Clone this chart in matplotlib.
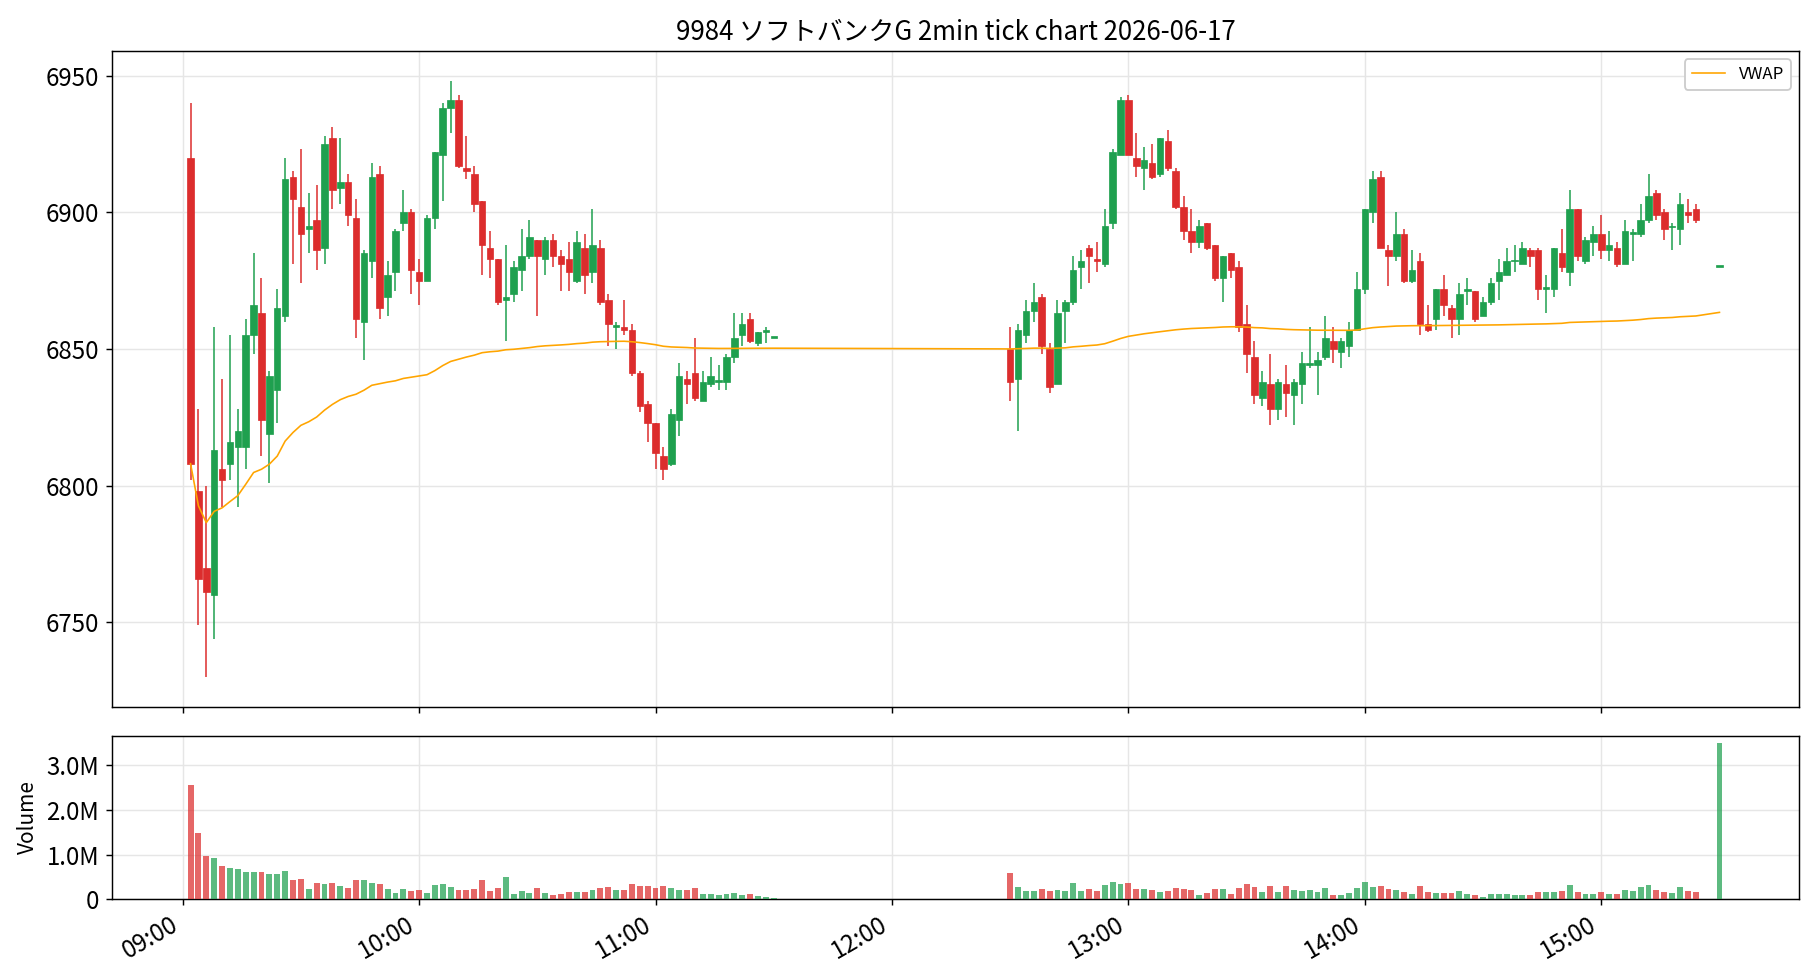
import matplotlib
matplotlib.use("Agg")
import matplotlib.pyplot as plt
import matplotlib.dates as mdates
import matplotlib.ticker as mticker
import numpy as np
import pandas as pd

plt.rcParams['font.family'] = ['Noto Sans CJK JP', 'DejaVu Sans']

TITLE = "9984 ソフトバンクG 2min tick chart 2026-06-17"

# ---- morning session (2-min bars, 09:02 .. 11:30) ----
am_open = [6920, 6798, 6770, 6760, 6806, 6808, 6814, 6814, 6855, 6863,
           6819, 6835, 6862, 6913, 6902, 6894, 6897, 6887, 6927, 6909,
           6911, 6898, 6860, 6882, 6914, 6869, 6878, 6896, 6900, 6878,
           6875, 6898, 6921, 6938, 6941, 6916, 6914, 6904, 6887, 6883,
           6868, 6870, 6879, 6884, 6890, 6883, 6890, 6884, 6883, 6875,
           6887, 6878, 6887, 6868, 6858, 6858, 6857, 6841, 6830, 6823,
           6811, 6808, 6824, 6839, 6841, 6831, 6837, 6838, 6838, 6847,
           6855, 6861, 6852, 6856, 6854]
am_high = [6940, 6828, 6800, 6858, 6839, 6855, 6828, 6861, 6885, 6876,
           6842, 6872, 6920, 6915, 6923, 6907, 6910, 6928, 6931, 6927,
           6914, 6905, 6886, 6918, 6917, 6882, 6894, 6908, 6901, 6883,
           6899, 6922, 6940, 6948, 6943, 6928, 6917, 6904, 6893, 6883,
           6888, 6882, 6894, 6897, 6890, 6891, 6892, 6886, 6889, 6893,
           6892, 6901, 6890, 6870, 6860, 6868, 6859, 6842, 6831, 6823,
           6814, 6828, 6845, 6842, 6854, 6842, 6847, 6844, 6848, 6863,
           6863, 6863, 6856, 6858, 6854]
am_low = [6802, 6749, 6730, 6744, 6792, 6802, 6792, 6806, 6848, 6811,
          6801, 6823, 6860, 6881, 6874, 6885, 6879, 6881, 6901, 6903,
          6895, 6854, 6846, 6876, 6861, 6862, 6871, 6893, 6870, 6866,
          6875, 6894, 6904, 6929, 6916, 6912, 6900, 6877, 6876, 6866,
          6853, 6867, 6871, 6883, 6862, 6877, 6880, 6871, 6871, 6874,
          6870, 6874, 6866, 6851, 6850, 6855, 6840, 6827, 6816, 6806,
          6802, 6807, 6818, 6830, 6831, 6831, 6836, 6835, 6835, 6845,
          6851, 6852, 6851, 6852, 6854]
am_close = [6808, 6766, 6761, 6813, 6802, 6816, 6820, 6855, 6866, 6824,
            6840, 6865, 6912, 6905, 6892, 6895, 6886, 6925, 6908, 6911,
            6899, 6861, 6885, 6913, 6865, 6877, 6893, 6900, 6879, 6875,
            6898, 6922, 6938, 6941, 6917, 6915, 6903, 6888, 6883, 6867,
            6869, 6880, 6884, 6891, 6884, 6890, 6884, 6881, 6878, 6889,
            6877, 6888, 6867, 6859, 6858.5, 6857, 6841, 6829, 6823, 6812,
            6806, 6826, 6840, 6837, 6832, 6838, 6840, 6838.5, 6847, 6854,
            6859, 6853, 6856, 6857, 6854]
am_volume_m = [2.55, 1.48, 0.97, 0.92, 0.74, 0.70, 0.68, 0.61, 0.61, 0.61,
               0.57, 0.57, 0.63, 0.43, 0.45, 0.23, 0.36, 0.34, 0.36, 0.30,
               0.25, 0.43, 0.43, 0.36, 0.34, 0.23, 0.14, 0.23, 0.19, 0.21,
               0.14, 0.32, 0.34, 0.28, 0.21, 0.21, 0.23, 0.43, 0.19, 0.25,
               0.50, 0.12, 0.19, 0.14, 0.25, 0.14, 0.10, 0.12, 0.16, 0.16,
               0.16, 0.21, 0.25, 0.27, 0.20, 0.22, 0.35, 0.30, 0.30, 0.25,
               0.30, 0.25, 0.22, 0.20, 0.25, 0.12, 0.12, 0.10, 0.12, 0.15,
               0.10, 0.12, 0.08, 0.06, 0.03]

# ---- afternoon session (2-min bars, 12:30 .. 15:24, closing print 15:30) ----
pm_open = [6850, 6839, 6855, 6864, 6869, 6850, 6837, 6864, 6867, 6880,
           6887, 6883, 6881, 6896, 6921, 6941, 6920, 6916, 6918, 6914,
           6926, 6915, 6902, 6893, 6889, 6896, 6888, 6876, 6885, 6880,
           6859, 6847, 6832, 6837, 6828, 6837, 6833, 6837, 6844, 6844,
           6847, 6853, 6849, 6851, 6857, 6872, 6900, 6913, 6886, 6884,
           6892, 6875, 6882, 6859, 6861, 6872, 6865, 6861, 6871, 6871,
           6862, 6867, 6875, 6877, 6882, 6881, 6886, 6886, 6872, 6872,
           6885, 6878, 6901, 6882, 6889, 6892, 6886, 6887, 6881, 6892,
           6892, 6897, 6907, 6900, 6894.5, 6894, 6900, 6901, 6880]
pm_high = [6858, 6859, 6868, 6874, 6870, 6852, 6868, 6868, 6884, 6886,
           6888, 6889, 6901, 6923, 6942, 6943, 6929, 6924, 6925, 6927,
           6930, 6916, 6906, 6901, 6897, 6896, 6888, 6884, 6885, 6882,
           6866, 6853, 6842, 6848, 6839, 6844, 6839, 6849, 6858, 6849,
           6862, 6858, 6854, 6860, 6878, 6901, 6915, 6915, 6888, 6900,
           6894, 6886, 6885, 6866, 6872, 6877, 6866, 6874, 6876, 6871,
           6869, 6876, 6883, 6887, 6888, 6889, 6887, 6887, 6877, 6887,
           6894, 6908, 6901, 6891, 6895, 6899, 6893, 6889, 6897, 6894,
           6903, 6914, 6908, 6901, 6896, 6907, 6905, 6903, 6880]
pm_low = [6831, 6820, 6852, 6860, 6848, 6834, 6837, 6852, 6866, 6872,
          6874, 6878, 6880, 6894, 6921, 6921, 6913, 6908, 6912, 6913,
          6915, 6901, 6890, 6885, 6887, 6886, 6875, 6867, 6876, 6856,
          6841, 6830, 6829, 6822, 6824, 6825, 6822, 6830, 6843, 6833,
          6846, 6845, 6843, 6847, 6857, 6870, 6896, 6887, 6873, 6882,
          6874, 6874, 6855, 6856, 6857, 6862, 6854, 6855, 6866, 6860,
          6862, 6866, 6868, 6877, 6878, 6881, 6880, 6868, 6863, 6869,
          6878, 6873, 6882, 6881, 6884, 6883, 6882, 6880, 6881, 6882,
          6891, 6896, 6897, 6890, 6886, 6888, 6896, 6896, 6880]
pm_close = [6838, 6857, 6864, 6867, 6851, 6836, 6863, 6867, 6879, 6882,
            6884, 6882, 6895, 6922, 6941, 6921, 6917, 6919, 6913, 6927,
            6916, 6902, 6893, 6889, 6895, 6887, 6876, 6884, 6879, 6858,
            6848, 6833, 6838, 6828, 6838, 6834, 6838, 6845, 6845, 6846,
            6854, 6850, 6853, 6857, 6872, 6901, 6912, 6887, 6884, 6892,
            6875, 6879, 6859, 6857, 6872, 6866, 6861, 6870, 6872, 6861,
            6867, 6874, 6878, 6882, 6882.5, 6887, 6884, 6872, 6872.5, 6887,
            6880, 6901, 6884, 6890, 6892, 6886, 6888, 6881, 6893, 6892.5,
            6897, 6906, 6899, 6894, 6895, 6903, 6899, 6897, 6880]
pm_volume_m = [0.59, 0.28, 0.19, 0.19, 0.23, 0.19, 0.21, 0.19, 0.36, 0.19,
               0.23, 0.19, 0.32, 0.39, 0.34, 0.36, 0.23, 0.23, 0.21, 0.16,
               0.19, 0.25, 0.23, 0.21, 0.10, 0.14, 0.23, 0.23, 0.12, 0.25,
               0.34, 0.28, 0.16, 0.30, 0.16, 0.30, 0.21, 0.19, 0.21, 0.16,
               0.25, 0.10, 0.10, 0.14, 0.25, 0.39, 0.28, 0.30, 0.23, 0.21,
               0.16, 0.12, 0.30, 0.16, 0.14, 0.14, 0.14, 0.19, 0.12, 0.10,
               0.05, 0.12, 0.12, 0.12, 0.10, 0.10, 0.10, 0.16, 0.16, 0.16,
               0.19, 0.32, 0.16, 0.12, 0.12, 0.16, 0.12, 0.12, 0.21, 0.19,
               0.28, 0.32, 0.21, 0.16, 0.14, 0.28, 0.19, 0.16, 3.49]

am_times = list(pd.date_range("2026-06-17 09:02", periods=len(am_open), freq="2min"))
pm_times = list(pd.date_range("2026-06-17 12:30", periods=len(pm_open) - 1, freq="2min"))
pm_times.append(pd.Timestamp("2026-06-17 15:30"))

times = am_times + pm_times
o = np.array(am_open + pm_open, float)
h = np.array(am_high + pm_high, float)
l = np.array(am_low + pm_low, float)
c = np.array(am_close + pm_close, float)
v = np.array(am_volume_m + pm_volume_m, float) * 1e6

x = mdates.date2num(times)
vwap = np.cumsum(c * v) / np.cumsum(v)

UP = '#1fa04f'
DOWN = '#dc2d2d'
up = c >= o
cols = np.where(up, UP, DOWN)

fig = plt.figure(figsize=(14, 980 / 130), dpi=130)
ax = fig.add_axes([0.0614, 0.2786, 0.9271, 0.6694])
axv = fig.add_axes([0.0614, 0.0823, 0.9271, 0.1670], sharex=ax)

day = 1.0 / 1440.0
ax.vlines(x, l, h, colors=cols, linewidth=0.85, zorder=2)
body_bottom = np.minimum(o, c)
body_h = np.maximum(np.abs(c - o), 0.6)
ax.bar(x, body_h, bottom=body_bottom, width=1.65 * day, color=cols,
       edgecolor=cols, linewidth=0.4, zorder=3)
ax.plot(x, vwap, color='#ffa500', linewidth=0.9, label='VWAP', zorder=4)

ax.set_ylim(6719, 6959)
ax.set_yticks([6750, 6800, 6850, 6900, 6950])
ax.grid(True, color='#e6e6e6', linewidth=0.8)
ax.set_axisbelow(True)
ax.set_title(TITLE, fontsize=14.3)
leg = ax.legend(loc='upper right', fontsize=9.3, framealpha=1.0)
plt.setp(ax.get_xticklabels(), visible=False)

axv.bar(x, v, width=1.5 * day, color=cols, alpha=0.72, zorder=3)
axv.set_ylim(0, 3.66e6)
axv.set_yticks([0, 1e6, 2e6, 3e6])
axv.yaxis.set_major_formatter(mticker.FuncFormatter(
    lambda val, pos: '0' if val == 0 else f'{val / 1e6:.1f}M'))
axv.set_ylabel('Volume', fontsize=11.5)
axv.grid(True, color='#e6e6e6', linewidth=0.8)
axv.set_axisbelow(True)

axv.set_xlim(pd.Timestamp("2026-06-17 08:42"), pd.Timestamp("2026-06-17 15:50:12"))
axv.xaxis.set_major_locator(mdates.HourLocator())
axv.xaxis.set_major_formatter(mdates.DateFormatter('%H:%M'))
for lab in axv.get_xticklabels():
    lab.set_rotation(30)
    lab.set_ha('right')

for a in (ax, axv):
    a.tick_params(labelsize=13.3)

fig.savefig('out.png', dpi=130)
